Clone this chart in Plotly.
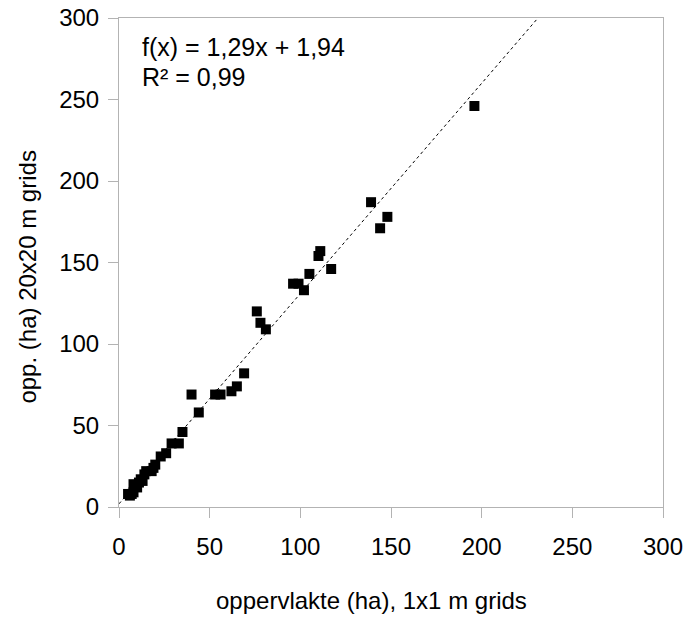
import plotly.graph_objects as go

# Area per parcel (ha): 1x1 m grid vs 20x20 m grid
opp_1x1 = [5, 6, 7, 8, 8, 10, 11, 12, 13, 14, 15, 18, 19, 20, 23, 26, 29, 33, 35,
           40, 44, 53, 56, 62, 65, 69, 76, 78, 81, 96, 99, 102, 105, 110, 111, 117,
           139, 144, 148, 196]
opp_20x20 = [8, 7, 8, 9, 14, 12, 15, 17, 16, 20, 22, 22, 24, 26, 31, 33, 39, 39, 46,
             69, 58, 69, 69, 71, 74, 82, 120, 113, 109, 137, 137, 133, 143, 154, 157, 146,
             187, 171, 178, 246]

# Linear trend line
slope = 1.29
intercept = 1.94
r2 = 0.99
axis_max = 300
tick_vals = [0, 50, 100, 150, 200, 250, 300]

trend_x = [0, (axis_max - intercept) / slope]
trend_y = [intercept + slope * v for v in trend_x]

FONT = "Liberation Sans, Arial, sans-serif"
GRAY = "#b3b3b3"

fig = go.Figure()
fig.add_trace(go.Scatter(
    x=trend_x, y=trend_y, mode="lines",
    line=dict(color="black", width=1, dash="3px,3px"),
    hoverinfo="skip", showlegend=False,
))
fig.add_trace(go.Scatter(
    x=opp_1x1, y=opp_20x20, mode="markers",
    marker=dict(symbol="square", size=10, color="black", line=dict(width=0)),
    showlegend=False,
))

axis_common = dict(
    range=[0, axis_max], tickvals=tick_vals, showgrid=False, zeroline=False,
    showline=True, linecolor=GRAY, linewidth=1, mirror=True,
    ticks="outside", ticklen=10, tickcolor=GRAY, tickwidth=1, automargin=False,
    tickfont=dict(family=FONT, size=24, color="black"),
)

fig.update_layout(
    width=690, height=617,
    margin=dict(l=118.5, r=27, t=18, b=110),
    paper_bgcolor="white", plot_bgcolor="white",
    font=dict(family=FONT, color="black"),
    xaxis=dict(**axis_common, ticklabelstandoff=8),
    yaxis=dict(**axis_common, ticklabelstandoff=4),
    annotations=[
        dict(text=f"f(x) = {slope:.2f}x + {intercept:.2f}".replace(".", ","),
             xref="paper", yref="paper", x=0.038, y=0.9407,
             xanchor="left", yanchor="middle", showarrow=False,
             font=dict(family=FONT, size=25)),
        dict(text=f"R² = {r2:.2f}".replace(".", ","),
             xref="paper", yref="paper", x=0.038, y=0.8793,
             xanchor="left", yanchor="middle", showarrow=False,
             font=dict(family=FONT, size=25)),
        dict(text="oppervlakte (ha), 1x1 m grids",
             xref="paper", yref="paper", x=(371 - 118.5) / 544.5, y=(507 - 600) / 489,
             xanchor="center", yanchor="middle", showarrow=False,
             font=dict(family=FONT, size=24)),
        dict(text="opp. (ha) 20x20 m grids", textangle=-90,
             xref="paper", yref="paper", x=(26 - 118.5) / 544.5, y=(507 - 277) / 489,
             xanchor="center", yanchor="middle", showarrow=False,
             font=dict(family=FONT, size=24)),
    ],
)

fig.write_html("out.html")
